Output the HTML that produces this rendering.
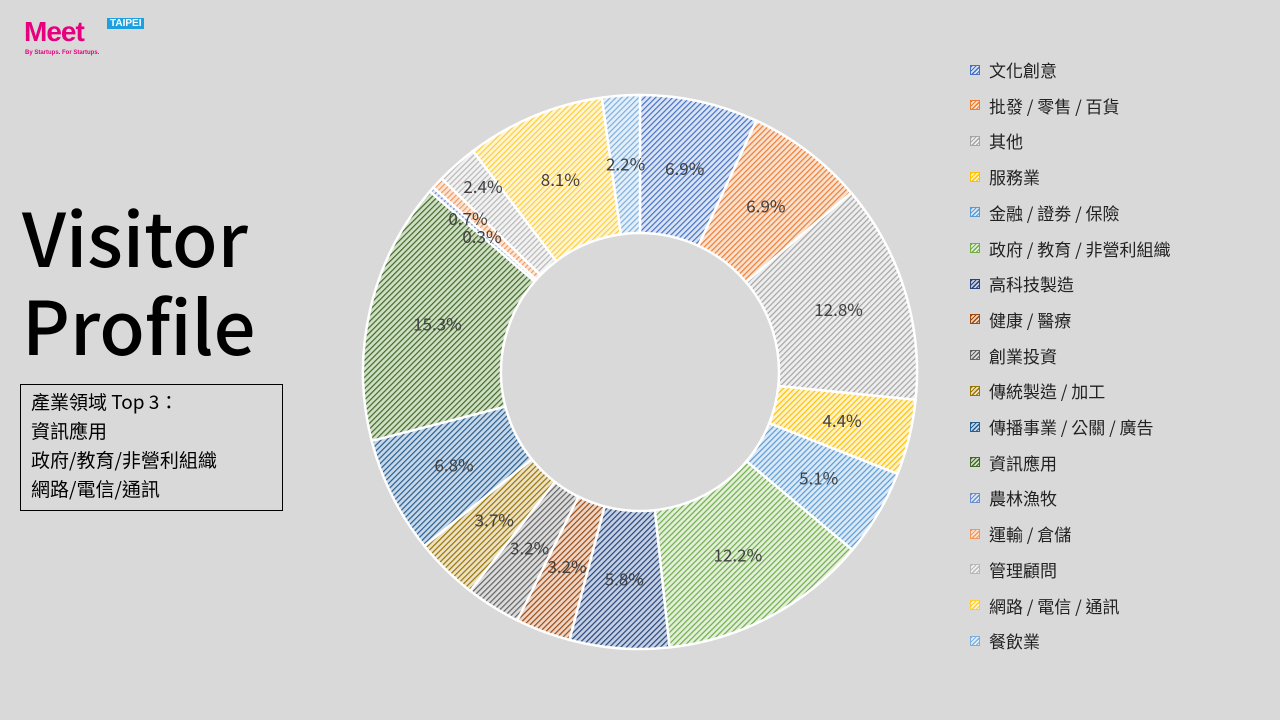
<!DOCTYPE html>
<html><head><meta charset="utf-8"><style>
body{margin:0;width:1280px;height:720px;background:#d9d9d9;overflow:hidden;position:relative;font-family:"Liberation Sans","Noto Sans CJK TC",sans-serif}
.t{position:absolute;left:22px;font-size:74px;font-weight:500;color:#000;line-height:1;font-family:"Noto Sans CJK TC",sans-serif}
.box{position:absolute;left:20px;top:384px;width:263px;height:127px;border:1px solid #000;box-sizing:border-box;padding:2px 10px;font-size:19px;line-height:29px;color:#000;font-family:"Noto Sans CJK TC",sans-serif}
.leg{position:absolute;left:970px;font-size:17px;color:#222;display:flex;align-items:center;font-family:"Noto Sans CJK TC",sans-serif}
.leg i{display:inline-block;width:8px;height:8px;margin-right:9px;border:1px solid}
</style></head><body>
<div style="position:absolute;left:24px;top:16px;font-weight:bold;font-size:28px;color:#e6007e;letter-spacing:-1px">Meet</div>
<div style="position:absolute;left:107px;top:18px;background:#1ea0e0;color:#fff;font-size:10px;font-weight:bold;padding:0 3px">TAIPEI</div>
<div style="position:absolute;left:25px;top:50px;font-size:6px;color:#e6007e;font-weight:bold">By Startups. For Startups.</div>
<div class="t" style="top:199px">Visitor</div>
<div class="t" style="top:287px">Profile</div>
<div class="box">產業領域 Top 3：<br>資訊應用<br>政府/教育/非營利組織<br>網路/電信/通訊</div>
<svg id="s" width="1280" height="720" style="position:absolute;left:0;top:0"></svg>
<div id="L"></div>
<script>
var vals=[6.9,6.9,12.8,4.4,5.1,12.2,5.8,3.2,3.2,3.7,6.8,15.3,0.3,0.7,2.4,8.1,2.2];
var names=["文化創意","批發 / 零售 / 百貨","其他","服務業","金融 / 證劵 / 保險","政府 / 教育 / 非營利組織","高科技製造","健康 / 醫療","創業投資","傳統製造 / 加工","傳播事業 / 公關 / 廣告","資訊應用","農林漁牧","運輸 / 倉儲","管理顧問","網路 / 電信 / 通訊","餐飲業"];
var cols=["#4472C4","#ED7D31","#A5A5A5","#FFC000","#5B9BD5","#70AD47","#264478","#9E480E","#636363","#997300","#255E91","#43682B","#698ED0","#F1975A","#B7B7B7","#FFCD33","#7CAFDD"];
var bgs=["#dbe4f4","#fbe1d0","#eeeeee","#fff3cc","#dbe9f6","#e2efda","#c5d0e4","#ecd6c8","#dcdcdc","#ebe2c8","#c8d8e8","#cfe0c4","#e1e8f6","#fce5d6","#f2f2f2","#fff5d6","#e4effa"];
var cx=640,cy=372,R=277,r=139,svg='<defs>';
cols.forEach(function(c,i){svg+='<pattern id="p'+i+'" width="4" height="4" patternUnits="userSpaceOnUse" patternTransform="rotate(45)"><rect width="4" height="4" fill="'+bgs[i]+'"/><rect width="1.2" height="4" fill="'+c+'"/></pattern>';});
svg+='</defs>';
var a=0,lbl='';
function P(rad,ang){return [cx+rad*Math.sin(ang),cy-rad*Math.cos(ang)];}
vals.forEach(function(v,i){var a0=a/100*2*Math.PI;a+=v;var a1=a/100*2*Math.PI;var lg=(a1-a0)>Math.PI?1:0;
var p1=P(R,a0),p2=P(R,a1),p3=P(r,a1),p4=P(r,a0);
svg+='<path d="M'+p1+'A'+R+','+R+' 0 '+lg+' 1 '+p2+'L'+p3+'A'+r+','+r+' 0 '+lg+' 0 '+p4+'Z" fill="url(#p'+i+')" stroke="#fff" stroke-width="2.5"/>';
var m=P(208,(a0+a1)/2);if(i==13)m=[468,219];if(i==14)m=[483,187];if(i==12)m=[482,237];
lbl+='<text x="'+m[0]+'" y="'+(m[1]+6)+'" text-anchor="middle" font-size="17" fill="#404040" font-family="Noto Sans CJK TC,sans-serif">'+v.toFixed(1)+'%</text>';});
document.getElementById('s').innerHTML=svg+lbl;
var h='';names.forEach(function(n,i){h+='<div class="leg" style="top:'+(57+i*35.7)+'px"><i style="background:'+bgs[i]+';border-color:'+cols[i]+';background-image:repeating-linear-gradient(135deg,'+cols[i]+' 0 1.2px,transparent 1.2px 3px)"></i>'+n+'</div>';});
document.getElementById('L').innerHTML=h;
</script>
</body></html>
